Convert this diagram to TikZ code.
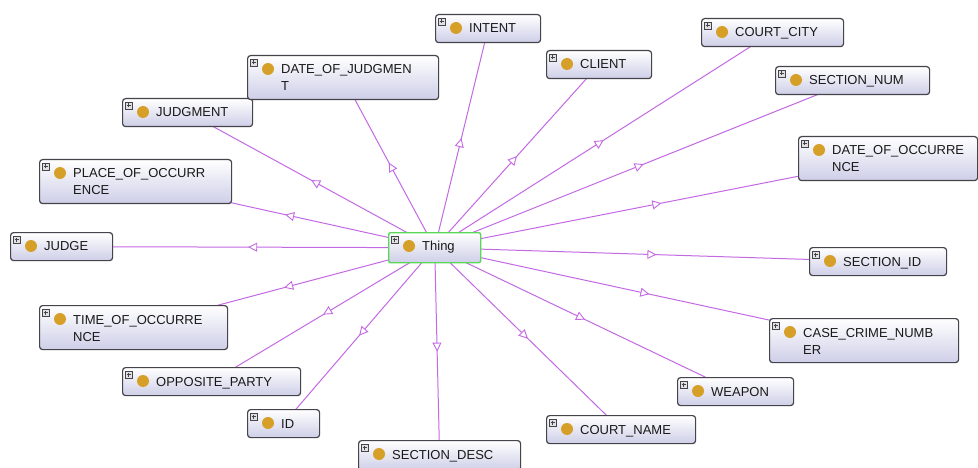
\documentclass[tikz,border=0pt]{standalone}
\usepackage{fontspec}
\setmainfont{Liberation Sans}
\usetikzlibrary{arrows.meta,decorations.markings,backgrounds}
\definecolor{edgec}{RGB}{196,105,228}
\definecolor{dotc}{RGB}{214,160,40}
\definecolor{bordc}{RGB}{68,68,74}
\definecolor{lavc}{RGB}{206,206,232}
\definecolor{greenc}{RGB}{90,215,90}
\definecolor{txtc}{RGB}{25,25,25}
\definecolor{plusfill}{RGB}{225,225,225}
\tikzset{
  obox/.style={rectangle, rounded corners=3pt, draw=bordc, line width=1.2pt,
    top color=white, bottom color=lavc, inner sep=0pt},
  tbox/.style={rectangle, rounded corners=2pt, draw=greenc, line width=1.4pt,
    top color=white, bottom color=lavc, inner sep=0pt},
  lbl/.style={anchor=base west, inner sep=0pt, text=txtc, font=\fontsize{13}{15}\selectfont},
  plusbox/.style={draw=bordc, fill=plusfill, line width=0.5pt},
  edge/.style={draw=edgec, line width=1pt, postaction={decorate},
    decoration={markings, mark=at position 0.5 with {\arrow{Triangle[length=9pt,width=9pt,fill=white,line width=0.9pt]}}}}
}
\newcommand{\onode}[8][obox]{%
  \node[#1, minimum width=#5pt, minimum height=#6pt, anchor=north west] (#2) at (#3,#4) {};
  \fill[dotc] (#3+21,#4+14) circle (6pt);
  \node[lbl] at (#3+34,#4+19) {#7};
  \node[lbl] at (#3+34,#4+36) {#8};
  \draw[plusbox] (#3+3,#4+4) rectangle ++(7,7);
  \draw[bordc, line width=0.6pt] (#3+4.5,#4+7.5) -- ++(4,0) (#3+6.5,#4+5.5) -- ++(0,4);
}
\begin{document}
\begin{tikzpicture}[x=1pt,y=-1pt]
\useasboundingbox (0,0) rectangle (978,468);
\onode[tbox]{thing}{388}{232}{92}{30}{Thing}{}
\onode{intent}{435}{14}{105}{28}{INTENT}{}
\onode{client}{546}{50}{105}{28}{CLIENT}{}
\onode{courtcity}{701}{18}{142}{28}{COURT\_CITY}{}
\onode{sectionnum}{775}{66}{154}{28}{SECTION\_NUM}{}
\onode{dateocc}{798}{136}{179}{44}{DATE\_OF\_OCCURRE}{NCE}
\onode{sectionid}{809}{247}{137}{28}{SECTION\_ID}{}
\onode{casecrime}{769}{318}{189}{44}{CASE\_CRIME\_NUMB}{ER}
\onode{weapon}{677}{377}{116}{28}{WEAPON}{}
\onode{courtname}{546}{415}{149}{28}{COURT\_NAME}{}
\onode{sectiondesc}{358}{440}{162}{30}{SECTION\_DESC}{}
\onode{id}{247}{409}{72}{28}{ID}{}
\onode{opposite}{122}{367}{178}{28}{OPPOSITE\_PARTY}{}
\onode{timeocc}{39}{305}{188}{44}{TIME\_OF\_OCCURRE}{NCE}
\onode{judge}{10}{232}{102}{28}{JUDGE}{}
\onode{placeocc}{39}{159}{192}{44}{PLACE\_OF\_OCCURR}{ENCE}
\onode{judgment}{122}{98}{130}{28}{JUDGMENT}{}
\onode{datejudg}{247}{55}{191}{44}{DATE\_OF\_JUDGMEN}{T}
\begin{scope}[on background layer]
\fill[white] (0,0) rectangle (978,468);
\foreach \n in {intent,client,courtcity,sectionnum,dateocc,sectionid,casecrime,weapon,courtname,sectiondesc,id,opposite,timeocc,judge,placeocc,judgment,datejudg}
  \draw[edge] (thing.center) -- (\n.center);
\end{scope}
\end{tikzpicture}
\end{document}
